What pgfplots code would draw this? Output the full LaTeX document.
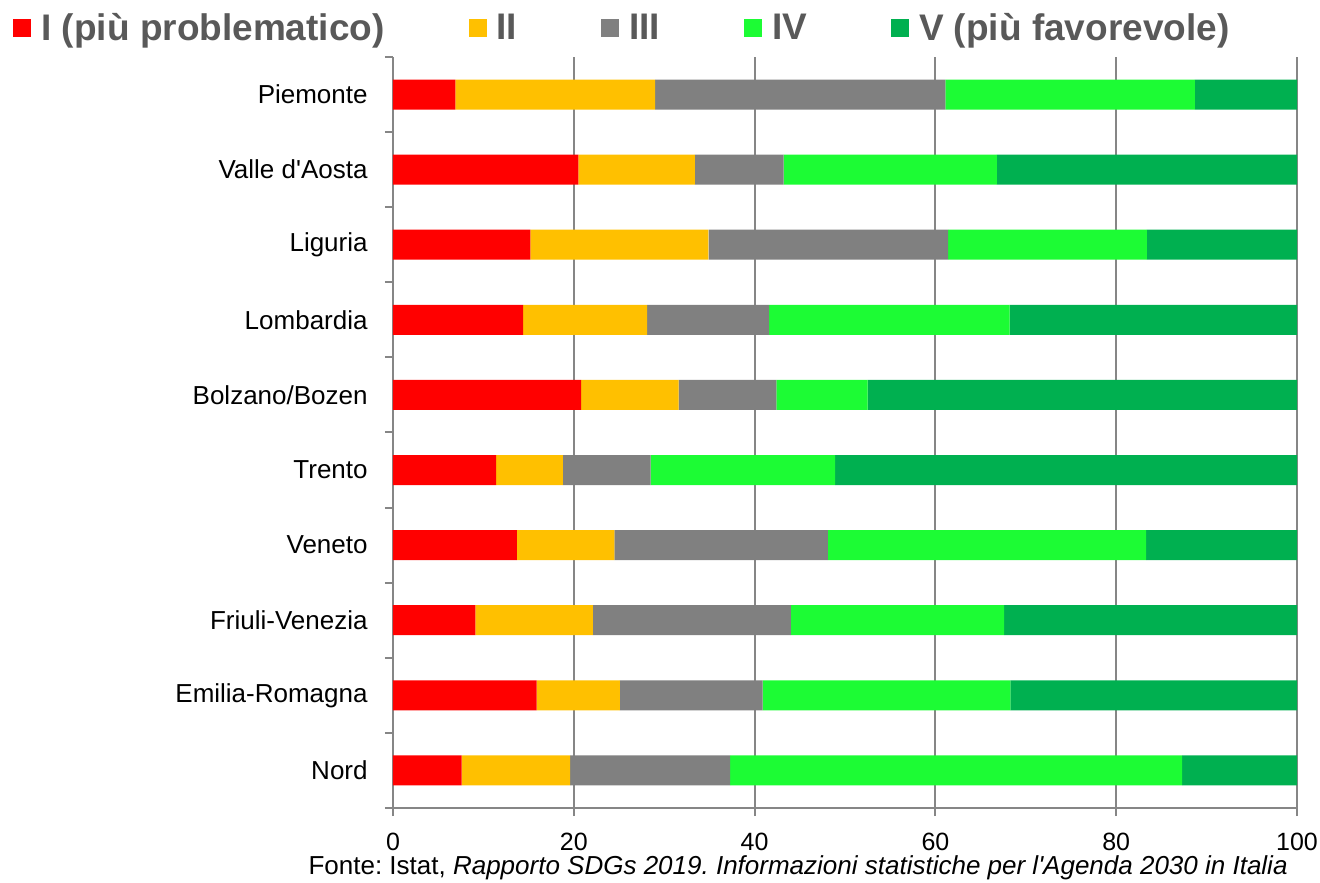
\documentclass[border=0pt]{standalone}
\usepackage{pgfplots}
\pgfplotsset{compat=1.18}
\usepackage{fontspec}
\setmainfont{Liberation Sans}
\frenchspacing
\definecolor{cI}{HTML}{FF0000}
\definecolor{cII}{HTML}{FFC000}
\definecolor{cIII}{HTML}{808080}
\definecolor{cIV}{HTML}{1CFC34}
\definecolor{cV}{HTML}{00B050}
\definecolor{axgray}{HTML}{868686}
\definecolor{legtext}{HTML}{595959}
\begin{document}
\begin{tikzpicture}
\useasboundingbox (-196.5pt,-37pt) rectangle (463.5pt,404pt);
\begin{axis}[
  at={(0,0)}, anchor=south west,
  scale only axis, width=452pt, height=375.5pt,
  xbar stacked, bar width=15pt,
  xmin=0, xmax=100, ymin=-0.5, ymax=9.5,
  xtick={0,20,...,100},
  ytick={0,...,9},
  yticklabels={Nord,Emilia-Romagna,Friuli-Venezia,Veneto,Trento,Bolzano/Bozen,Lombardia,Liguria,Valle d\textquotesingle Aosta,Piemonte},
  minor ytick={-0.5,0.5,...,9.5},
  axis x line*=bottom, axis y line*=left,
  axis line style={axgray, line width=1pt, -},
  xmajorgrids, major grid style={axgray, line width=1pt},
  tick align=outside,
  major tick length=4pt, minor tick length=4pt,
  tick style={axgray, line width=1pt},
  every major y tick/.append style={draw=none},
  /pgf/number format/assume math mode=true,
  xticklabel style={font=\fontsize{12.5}{14}\selectfont, text=black, yshift=-5pt},
  yticklabel style={font=\fontsize{13}{15}\selectfont, text=black, inner sep=0pt, xshift=-8.5pt},
  legend style={at={(rel axis cs:0,1)}, anchor=west, xshift=-190pt, yshift=14.5pt,
    draw=none, fill=none, inner sep=0pt, legend columns=5,
    font=\fontsize{18.5}{21}\selectfont\bfseries, text=legtext,
    /tikz/every odd column/.append style={column sep=3pt},
    /tikz/every even column/.append style={column sep=40pt}},
  legend image code/.code={\fill[#1] (0pt,-4.5pt) rectangle (9pt,4.5pt);},
]
\addplot[fill=cI, draw=none] coordinates {(7.6,0) (15.9,1) (9.1,2) (13.7,3) (11.4,4) (20.8,5) (14.4,6) (15.2,7) (20.5,8) (6.9,9)};
\addplot[fill=cII, draw=none] coordinates {(12.0,0) (9.2,1) (13.0,2) (10.8,3) (7.4,4) (10.8,5) (13.7,6) (19.7,7) (12.9,8) (22.1,9)};
\addplot[fill=cIII, draw=none] coordinates {(17.7,0) (15.8,1) (21.9,2) (23.6,3) (9.7,4) (10.8,5) (13.5,6) (26.5,7) (9.8,8) (32.1,9)};
\addplot[fill=cIV, draw=none] coordinates {(50.0,0) (27.4,1) (23.6,2) (35.2,3) (20.4,4) (10.1,5) (26.6,6) (22.0,7) (23.6,8) (27.6,9)};
\addplot[fill=cV, draw=none] coordinates {(12.7,0) (31.7,1) (32.4,2) (16.7,3) (51.1,4) (47.5,5) (31.8,6) (16.6,7) (33.2,8) (11.3,9)};
\legend{I (più problematico),II,III,IV,V (più favorevole)}
\end{axis}
\node[anchor=base east, inner sep=0pt, font=\fontsize{13}{15}\selectfont] at ([xshift=-4.5pt, yshift=-33pt]current axis.south east) {Fonte: Istat, \textit{Rapporto SDGs 2019. Informazioni statistiche per l\textquotesingle Agenda 2030 in Italia}};
\end{tikzpicture}
\end{document}
